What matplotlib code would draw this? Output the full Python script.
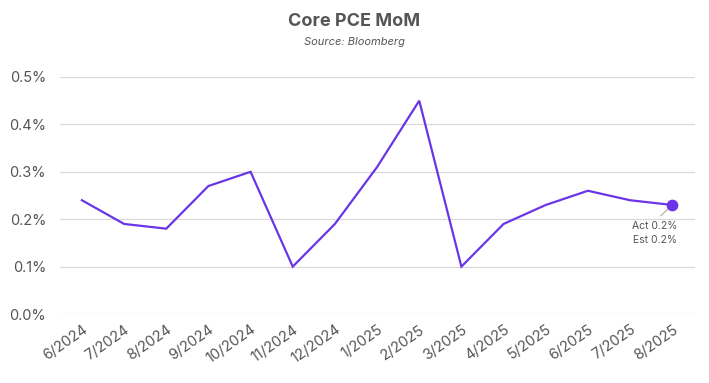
import matplotlib
matplotlib.use("Agg")
import matplotlib.pyplot as plt
from matplotlib.ticker import FuncFormatter

months = ["6/2024", "7/2024", "8/2024", "9/2024", "10/2024", "11/2024", "12/2024",
          "1/2025", "2/2025", "3/2025", "4/2025", "5/2025", "6/2025", "7/2025", "8/2025"]
core_pce_mom = [0.24, 0.19, 0.18, 0.27, 0.30, 0.10, 0.19, 0.31, 0.45, 0.10, 0.19, 0.23, 0.26, 0.24, 0.23]
yticks = [0.0, 0.1, 0.2, 0.3, 0.4, 0.5]
actual_label = "Act 0.2%"
estimate_label = "Est 0.2%"

plt.rcParams['font.family'] = ['Inter', 'DejaVu Sans']
fig = plt.figure(figsize=(7.09, 3.83), dpi=100)
ax = fig.add_axes([60/709, 1-314/383, (695-60)/709, (314-77)/383])

x = list(range(len(months)))
color = "#6a35e6"
ax.plot(x, core_pce_mom, color=color, lw=1.6, solid_joinstyle='miter')
ax.scatter([x[-1]], [core_pce_mom[-1]], s=55, color=color, zorder=5)

ax.set_xlim(-0.52, len(months) - 1 + 0.54)
ax.set_ylim(0, 0.5)
ax.set_yticks(yticks)
ax.yaxis.set_major_formatter(FuncFormatter(lambda v, p: f"{v:.1f}%"))
ax.set_xticks(x)
ax.set_xticklabels(months, rotation=35, ha='right', rotation_mode='anchor')
ax.tick_params(axis='both', length=0, labelsize=10.5, colors="#555555")
ax.tick_params(axis='y', pad=10)
ax.tick_params(axis='x', pad=6)
ax.grid(axis='y', color="#d9d9d9", lw=0.9)
ax.set_axisbelow(True)
for s in ax.spines.values():
    s.set_visible(False)

ax.annotate(actual_label + "\n" + estimate_label, xy=(x[-1], core_pce_mom[-1]),
            xytext=(x[-1] + 0.12, core_pce_mom[-1] - 0.06), textcoords='data',
            ha='right', va='center', fontsize=7.5, color="#555555", linespacing=1.5,
            arrowprops=dict(arrowstyle='-', color="#aaaaaa", lw=0.8,
                            shrinkA=3, shrinkB=4, relpos=(0.5, 1.0)))

fig.text(0.5, 1-22/383, "Core PCE MoM", ha='center', va='center', fontsize=13,
         fontweight='bold', color="#555555")
fig.text(0.5, 1-42/383, "Source: Bloomberg", ha='center', va='center', fontsize=8,
         style='italic', color="#555555")

fig.savefig("out.png", dpi=100)
